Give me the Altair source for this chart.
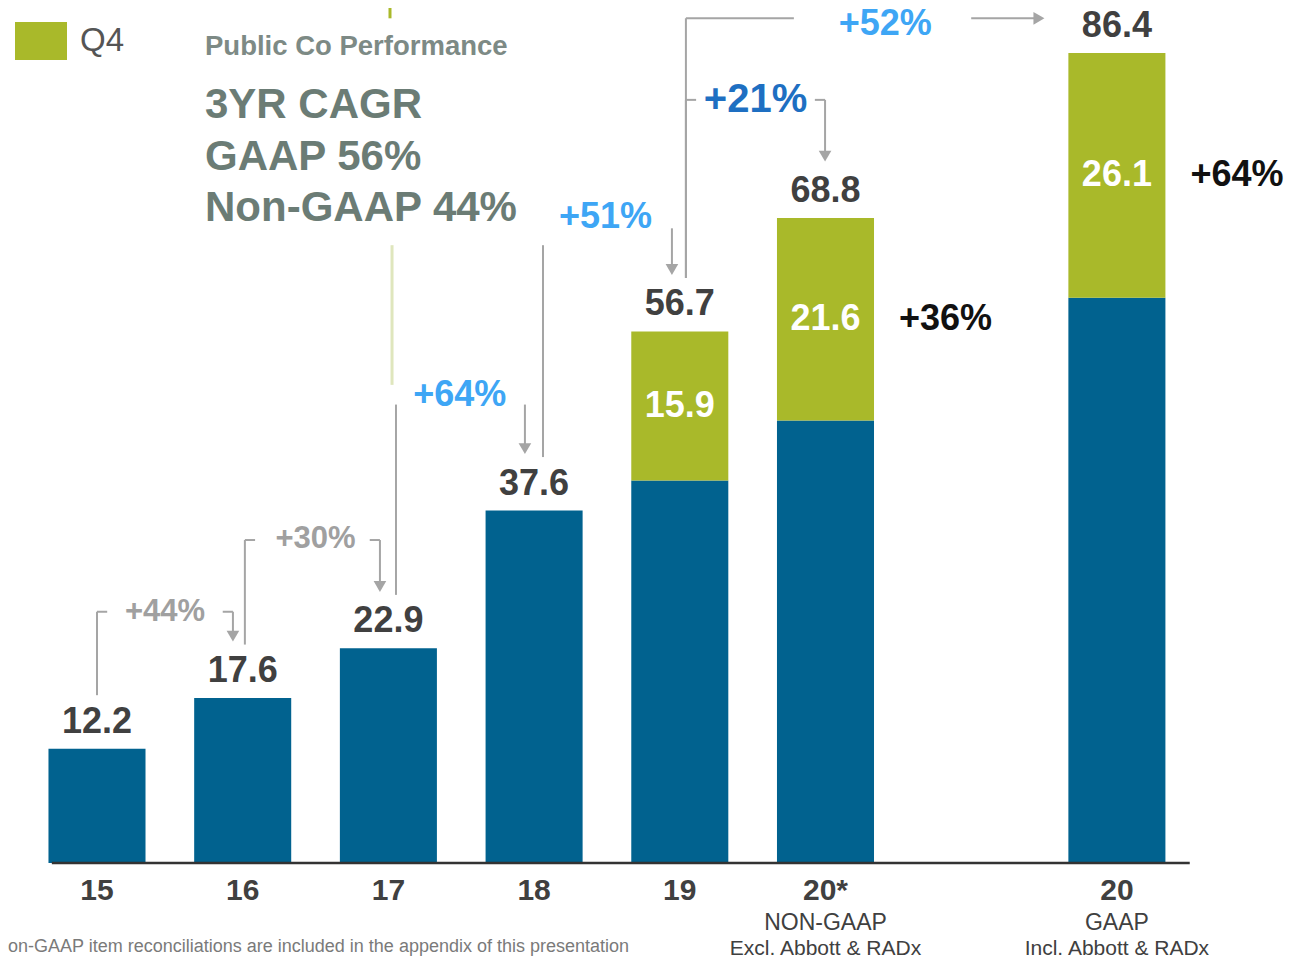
import altair as alt
import pandas as pd

# ---------------- data ----------------
categories = ["15", "16", "17", "18", "19", "20*", "20"]
slots = [0, 1, 2, 3, 4, 5, 7]          # category slot (slot 6 is left empty)
totals = [12.2, 17.6, 22.9, 37.6, 56.7, 68.8, 86.4]
q4_values = [0, 0, 0, 0, 15.9, 21.6, 26.1]
sub_line1 = ["", "", "", "", "", "NON-GAAP", "GAAP"]
sub_line2 = ["", "", "", "", "", "Excl. Abbott & RADx", "Incl. Abbott & RADx"]
q4_growth = ["", "", "", "", "", "+36%", "+64%"]

growth_labels = ["+44%", "+30%", "+64%", "+51%", "+21%", "+52%"]
growth_from = ["15", "16", "17", "18", "19", "19"]
growth_to = ["16", "17", "18", "19", "20*", "20"]

title_lines = ["3YR CAGR", "GAAP 56%", "Non-GAAP 44%"]
footnote = "on-GAAP item reconciliations are included in the appendix of this presentation"

# ---------------- style / layout ----------------
FONT = "Liberation Sans"
BLUE = "#01628f"
GREEN = "#a9b92a"
DARK = "#404040"
GREY_LINE = "#a5a5a5"
GREY_TXT = "#a0a0a0"
LBLUE = "#3ea6f5"
DBLUE = "#1e6fc2"
HALF = 0.333
W, H = 1293, 952
PX_PER_UNIT = 9.375
XDOM = [-0.6108, 8.2636]
YDOM = [91.2 - H / PX_PER_UNIT, 91.2]

# growth annotation layout (data units): level, label pos, colours
g_style = {
    "+44%": dict(level=26.8, lx=0.000, rx=-0.067, tx=0.467, ty=26.8, color=GREY_TXT, size=31, ticks=True, ltop=26.8, rtop=26.8),
    "+30%": dict(level=34.45, lx=0.015, rx=-0.058, tx=0.50, ty=34.6, color=GREY_TXT, size=31, ticks=True, ltop=34.45, rtop=34.45),
    "+64%": dict(level=48.9, lx=0.052, rx=-0.063, tx=0.49, ty=49.9, color=LBLUE, size=36, ticks=False, ltop=48.9, rtop=48.9),
    "+51%": dict(level=65.9, lx=0.061, rx=-0.054, tx=0.49, ty=68.9, color=LBLUE, size=36, ticks=False, ltop=65.9, rtop=67.7),
    "+21%": dict(level=81.4, lx=0.042, rx=-0.003, tx=0.52, ty=81.4, color=DBLUE, size=40, ticks=True, ltop=81.4, rtop=81.4),
    "+52%": dict(level=90.1, lx=0.042, rx=None, tx=1.41, ty=89.5, color=LBLUE, size=36, ticks=False, ltop=90.1, rtop=90.1),
}
LEG_GAP = 5.7
TIP_GAP = 6.0
TICK = 0.07

pos = dict(zip(categories, slots))
val = dict(zip(categories, totals))

xs = alt.Scale(domain=XDOM, nice=False, zero=False)
ys = alt.Scale(domain=YDOM, nice=False, zero=False)

def X(f):
    return alt.X(f, type="quantitative", scale=xs, axis=None)

def Y(f):
    return alt.Y(f, type="quantitative", scale=ys, axis=None)

# bars
rows = []
for c, s, t, q in zip(categories, slots, totals, q4_values):
    rows.append(dict(cat=c, xl=s - HALF, xr=s + HALF, y0=0, y1=t - q, color=BLUE))
    if q:
        rows.append(dict(cat=c, xl=s - HALF, xr=s + HALF, y0=t - q, y1=t, color=GREEN))
bars_df = pd.DataFrame(rows)

bars = alt.Chart(bars_df).mark_bar().encode(
    x=X("xl"), x2="xr", y=Y("y0"), y2="y1",
    color=alt.Color("color:N", scale=None))

cat_df = pd.DataFrame(dict(cat=categories, slot=slots, total=totals, q4=q4_values,
                           s1=sub_line1, s2=sub_line2, g=q4_growth))
cat_df["mid"] = cat_df.total - cat_df.q4 / 2
cat_df["zero"] = 0.0
cat_df["right"] = cat_df.slot + HALF

value_labels = alt.Chart(cat_df).mark_text(
    font=FONT, fontSize=36, fontWeight="bold", color=DARK, dy=-27, baseline="middle"
).encode(x=X("slot"), y=Y("total"), text=alt.Text("total:Q", format=".1f"))

q4_df = cat_df[cat_df.q4 > 0]
seg_labels = alt.Chart(q4_df).mark_text(
    font=FONT, fontSize=36, fontWeight="bold", color="white", baseline="middle"
).encode(x=X("slot"), y=Y("mid"), text=alt.Text("q4:Q", format=".1f"))

q4_growth_labels = alt.Chart(q4_df[q4_df.g != ""]).mark_text(
    font=FONT, fontSize=36, fontWeight="bold", color="#111111", baseline="middle",
    align="left", dx=25
).encode(x=X("right"), y=Y("mid"), text="g:N")

axis_labels = alt.Chart(cat_df).mark_text(
    font=FONT, fontSize=30, fontWeight="bold", color=DARK, dy=28, baseline="middle"
).encode(x=X("slot"), y=Y("zero"), text="cat:N")

sub1 = alt.Chart(cat_df[cat_df.s1 != ""]).mark_text(
    font=FONT, fontSize=23, color=DARK, dy=60, baseline="middle"
).encode(x=X("slot"), y=Y("zero"), text="s1:N")

sub2 = alt.Chart(cat_df[cat_df.s2 != ""]).mark_text(
    font=FONT, fontSize=21, color=DARK, dy=86, baseline="middle"
).encode(x=X("slot"), y=Y("zero"), text="s2:N")

baseline_rule = alt.Chart(pd.DataFrame(dict(a=[-0.31], b=[7.5], y=[0.0]))).mark_rule(
    color="#333333", strokeWidth=2.5
).encode(x=X("a"), x2="b", y=Y("y"))

# connectors
segs, heads, gtext = [], [], []
for lab, f, t in zip(growth_labels, growth_from, growth_to):
    st = g_style[lab]
    lx = pos[f] + st["lx"]
    segs.append(dict(x=lx, x2=lx, y=val[f] + LEG_GAP, y2=st["ltop"]))
    gtext.append(dict(x=pos[f] + st["tx"], y=st["ty"], t=lab, c=st["color"], s=st["size"]))
    if st["rx"] is None:
        segs.append(dict(x=lx, x2=pos[f] + 0.783, y=st["level"], y2=st["level"]))
        segs.append(dict(x=pos[f] + 2.0, x2=pos[f] + 2.45, y=st["level"], y2=st["level"]))
        heads.append(dict(x=pos[f] + 2.465, y=st["level"], shape="triangle-right"))
        continue
    rx = pos[t] + st["rx"]
    tip = val[t] + TIP_GAP
    segs.append(dict(x=rx, x2=rx, y=st["rtop"], y2=tip + 0.6))
    heads.append(dict(x=rx, y=tip + 0.6, shape="triangle-down"))
    if st["ticks"]:
        segs.append(dict(x=lx, x2=lx + TICK, y=st["level"], y2=st["level"]))
        segs.append(dict(x=rx - TICK, x2=rx, y=st["level"], y2=st["level"]))

seg_df = pd.DataFrame(segs)
connectors = alt.Chart(seg_df).mark_rule(color=GREY_LINE, strokeWidth=2).encode(
    x=X("x"), x2="x2", y=Y("y"), y2="y2")

heads_df = pd.DataFrame(heads)
arrow_heads = alt.Chart(heads_df).mark_point(
    filled=True, color=GREY_LINE, size=160, opacity=1
).encode(x=X("x"), y=Y("y"), shape=alt.Shape("shape:N", scale=None))

gt_df = pd.DataFrame(gtext)
growth_layers = []
for sz in sorted(gt_df.s.unique()):
    growth_layers.append(
        alt.Chart(gt_df[gt_df.s == sz]).mark_text(
            font=FONT, fontWeight="bold", baseline="middle", fontSize=float(sz)
        ).encode(x=X("x"), y=Y("y"), text="t:N", color=alt.Color("c:N", scale=None))
    )

# decorative green lines
green_df = pd.DataFrame(dict(x=[2.011, 2.025], y=[91.2, 65.9], y2=[90.1, 51.0],
                             c=[GREEN, "#dfe6bd"]))
green_lines = alt.Chart(green_df).mark_rule(strokeWidth=3).encode(
    x=X("x"), y=Y("y"), y2="y2", color=alt.Color("c:N", scale=None))

# legend and titles (pixel positions)
legend_sq = alt.Chart(pd.DataFrame(dict(a=[0]))).mark_rect(color=GREEN).encode(
    x=alt.value(7), x2=alt.value(59), y=alt.value(14), y2=alt.value(52))
legend_txt = alt.Chart(pd.DataFrame(dict(t=["Q4"]))).mark_text(
    font=FONT, fontSize=33, color="#555555", align="left", baseline="middle"
).encode(x=alt.value(72), y=alt.value(33), text="t:N")

sub_title = alt.Chart(pd.DataFrame(dict(t=["Public Co Performance"]))).mark_text(
    font=FONT, fontSize=27.5, fontWeight="bold", color="#7d8a85", align="left", baseline="middle"
).encode(x=alt.value(197), y=alt.value(39), text="t:N")

title_layers = []
for line, yy in zip(title_lines, [97, 149, 200]):
    title_layers.append(
        alt.Chart(pd.DataFrame(dict(t=[line]))).mark_text(
            font=FONT, fontSize=42, fontWeight="bold", color="#6b7c75", align="left", baseline="middle"
        ).encode(x=alt.value(197), y=alt.value(yy), text="t:N")
    )

foot = alt.Chart(pd.DataFrame(dict(t=[footnote]))).mark_text(
    font=FONT, fontSize=18, color="#7a7a7a", align="left", baseline="middle"
).encode(x=alt.value(0), y=alt.value(939), text="t:N")

chart = alt.layer(
    green_lines, bars, baseline_rule, connectors, arrow_heads, *growth_layers,
    value_labels, seg_labels, q4_growth_labels, axis_labels, sub1, sub2,
    legend_sq, legend_txt, sub_title, *title_layers, foot
).properties(
    width=W, height=H, autosize=alt.AutoSizeParams(type="none"), padding=0
).configure_view(stroke=None)

chart.save("out.html", embed_options={"renderer": "svg", "actions": False})
